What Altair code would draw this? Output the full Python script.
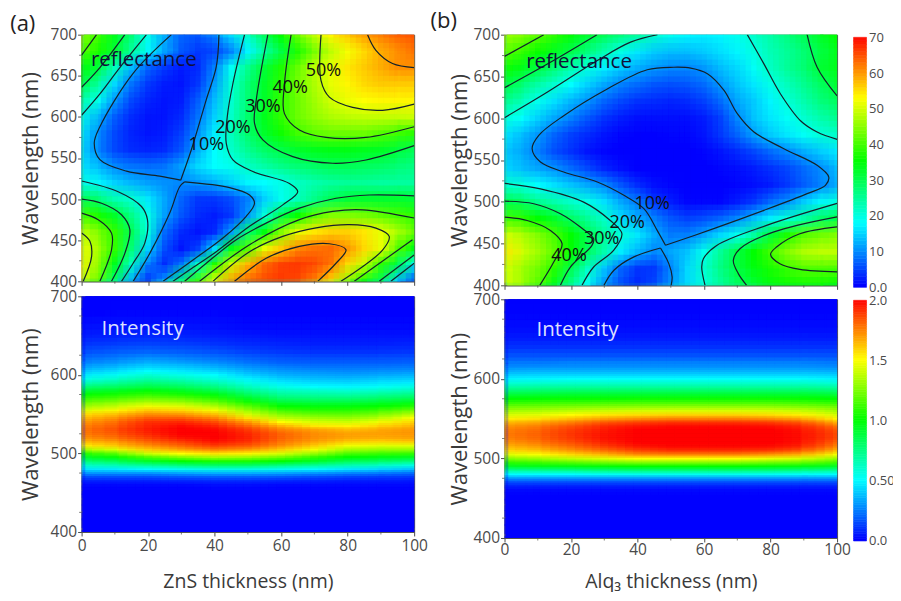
import altair as alt
import pandas as pd

FONT = "Open Sans"
RAMP = ["#0000ff", "#00ffff", "#00ff00", "#ffff00", "#ff0000"]

# ---------- reflectance maps: one list per wavelength, thickness 0,5,...,100 ----------
THICK5 = list(range(0, 101, 5))
WL20 = [700, 680, 660, 640, 620, 600, 580, 560, 540, 520, 500, 480, 460, 440, 420, 400]

REFL_A = [
 [45,39,33,27,19,12,7,6,9,15,21,28.5,35,42,48,53,56,59,61,63,64],
 [41,36,31,24,17,11,6,4,5,9,17,24,30,37,43,48,52,55,58,60,62],
 [35,30,22,13,7,4,2,3,9,18,25,31,37,42,48,51,54,56,58,60,60],
 [31,23,15,8,4,2,1.5,4,11,20,27,32,38,43,47,51,53,55,56,56,56],
 [24,18,10.5,5,2.5,1.5,2,6.5,13,20.5,27,32,38.5,42.5,46,49.5,51.5,52.5,53,53,53],
 [19,12,6.5,3,1.5,1.5,3,8,14.5,21,27.5,33,38.5,42.5,45,47,48,48.5,48.5,48.5,49],
 [16,9.5,5,2.5,1.5,2,4.5,10,16.5,22,27.5,32,36,39.5,41.5,42.5,42.5,42.5,41,39.5,38],
 [15,9,5,3,2.5,3,6,12,17.5,21,25,28,30,32,33,33.5,33.5,33,32.5,31,29],
 [16,12.5,9.5,8,7.5,8,11,15,17.5,18.5,21.5,23.5,25.5,27,28,29,29,28.5,28,27,26],
 [19.5,17,14.5,12.5,11,10,9.5,10.5,12,14.5,17,17.5,19,21.5,23,24,24.5,24.5,24,24,24],
 [30,26.5,22.5,20.5,16,11.5,7,4,4,5.5,9,14.5,18.5,22,25.5,29,31,31.5,31.5,31.5,31],
 [40.5,36.5,32,25.5,19,11,6,3,2,4,10.5,20,29.5,35.5,41,44,44,43,41.5,40,38],
 [49,43,38.5,29,19.5,7.5,3,1.5,3,11,27,34,44,51,54,55.5,55.5,54,51,47,42],
 [52,45.5,38.5,27,14.5,5.5,1.5,4.5,15,33,41,51,56,60.5,62,62.5,59.5,55,51,41.5,34],
 [53,44,33,21.5,9,3,8,21,37,49,57,62.5,65.5,66,65,62,55,49,38.5,31,19],
 [51,41,27,11.5,3,11,26,39,51,59,63,65,66,65,61,55,45.5,36,29,15,5],
]

REFL_B = [
 [46,44,41.5,38,34.5,31.5,29,26.5,24,21,18.5,17,16.5,17,18.5,21,23.5,26,29,32,35],
 [41.5,38.5,35.5,32.5,29.5,26,22.5,19,16,14,13,13,14,15.5,17,19.5,22.5,24.5,27,30,33],
 [36,33,30.5,27,23,19.5,16.5,14,12,10.5,9.5,9.5,10.5,13,15,18,21.5,24.5,27,31,33],
 [30.5,27,23.5,20.5,17.5,14.5,11.5,9,7.5,6,5.5,6,7.5,10.5,13.5,16,19,22,25,28,31.5],
 [25.5,22,18.5,15.5,12.5,10,7,5,3.5,3,2.5,3,4.5,7.5,11.5,14,17,20,23,26,28.5],
 [20,17.5,14.5,11.5,9,6,3.5,2,1,1,1,1,2,4.5,9.5,13.5,16,18,20.5,23,25],
 [16,13,10.5,7,4.5,3,1.5,0.5,0.2,0.2,0.5,0.5,1.5,4,7,11,14,16,18,20,21],
 [14,11.5,9,5.5,3.5,1.5,0.5,0,0,0,0,0,0.5,1.5,3,5,7.5,9.5,12,14,16],
 [15,13,11.5,10,7.5,5,2.5,1,0,0,0,0,0,0.5,1,2,3.5,5,7.5,9.5,13],
 [21,19.5,17.5,15.5,13.5,11.5,9.5,6,3,1,0.5,0,0,0,0.5,1,2,4,6.5,9,12],
 [30,28,25,23,21,19,15.5,11.5,8.5,4,2,0.5,0.5,0.5,2,4,7.5,10,14,17,19.5],
 [40,38,35,32,28,24.5,21,15.5,12,9,6,4.5,5.5,7,9.5,13,16.5,20,23.5,27,30],
 [50,47,44,40,35,29.5,24.5,20,16,12,8.5,9,11.5,15,18.5,24,31,37,41,42.5,44],
 [54,49.5,46,41.5,35,28.5,23,16.5,12.5,9.5,11.5,13.5,18.5,24.5,30,35,39.5,44,47,48,48],
 [50,46,43,38,30,22,14,7.5,4,4,9.5,15,21,26,30.5,34,37,39.5,41,41,40.5],
 [50,46,41,33,25,17.5,10,5,2.5,5,10,15,19.5,24,28,31,34,35.5,36,36,35],
]

# ---------- contour lines: [(thickness, wavelength), ...] ----------
CONTOURS_A = [
 [(4.5,700),(0,675)],
 [(13,700),(5.5,660),(0,636)],
 [(19.5,700),(11.5,660),(5.5,628),(0,602)],
 [(27,700),(15.5,653),(5.5,588),(3.8,568),(5.5,548),(13.5,534),(23.5,528),(29.8,523)],
 [(29.8,523),(33,560),(37.5,621),(40.5,661),(41.3,700)],
 [(15.5,400),(20.5,434),(26.5,483),(29.5,515),(31,521)],
 [(31,521),(44.5,514),(50.5,505),(52,495),(49.5,479),(42.5,452.6),(33.5,426),(24.5,400)],
 [(49,700),(45.5,640.6),(43.8,600),(43.5,567.8),(45.5,547.6),(51.5,533.5),(62.5,519),(65,509),(60.5,493),(50.5,467),(40.5,436),(32.5,414),(27.5,400)],
 [(56,700),(52.5,620),(52,592),(54.5,572),(63.5,551.6),(75.5,543.6),(85.5,547.6),(100,565)],
 [(63,700),(61,640),(61,604),(65.5,584),(73.5,575),(85.5,575),(100,588)],
 [(72,700),(72,644),(74.5,624),(81.5,611.5),(90.5,608),(100,615.5)],
 [(86,700),(88.5,681),(93.5,665),(100,660)],
 [(31,400),(37.5,422),(46.5,450.6),(55.5,470.8),(65.5,489),(76.5,501),(86.5,505),(100,504)],
 [(35.5,400),(50.5,444.5),(65.5,475),(75.5,485),(84.5,487),(100,477)],
 [(39.5,400),(50.5,436),(60.5,454.6),(70.5,465),(80.5,469),(88.5,464.7),(92.5,454.6),(90.5,438),(78,400)],
 [(46,400),(55.5,428),(65.5,442.5),(74.5,445.7),(79.5,438.4),(76.5,422),(71,400)],
 [(82,400),(99.5,450.6)],
 [(89.5,400),(100,432)],
 [(93,400),(100,422)],
 [(0,522),(11,509),(18,491),(19.8,475),(19,446.5),(15.5,422),(12,400)],
 [(0,500),(6,495),(12,481),(14.5,463),(13,434),(9,400)],
 [(0,483),(5,475),(9,458.6),(9,438.4),(5.5,400)],
 [(0,458.7),(2.5,448.6),(3,430),(0.5,400)],
]

CONTOURS_B = [
 [(0,674),(11.8,700)],
 [(0,636.5),(13.8,667),(27.8,700)],
 [(0,600.6),(12.8,631),(27.9,669),(37.9,691),(46,700)],
 [(48.4,447.9),(45.9,465.8),(41.9,491.7),(35.9,507.7),(27.9,523.6),(17.8,535.6),(10.8,547.6),(8.3,563.5),(10.3,579.5),(17.8,603),(30.9,635),(42.9,658),(50.9,661),(56,660),(61,653.3),(66,633.3),(70,605.4),(75,583.5),(84,563.5),(94,543.6),(97.5,529.6),(96.5,519.7),(91,509.7),(78,489.7),(62.9,467.8),(48.4,447.9)],
 [(29.9,400),(32.9,418),(38.9,434),(46.9,444.7)],
 [(46.9,444.7),(49.4,426),(50.4,410),(50.1,400)],
 [(73,700),(78,665),(83,629),(89,597),(94,583.5),(100,574.7)],
 [(91,700),(94,661),(100,626.6)],
 [(0,522),(10.8,515.5),(23.8,499.6),(31.8,477.6),(35.3,461.7),(32.8,441.8),(26.8,421.9),(23.3,400)],
 [(0,500.7),(8.8,497.6),(16.8,485.6),(22.8,469.7),(26.8,455.7),(26.3,447.8),(19.8,421.9),(16.8,400)],
 [(0,481.6),(6.8,477.6),(13.8,465.7),(17.3,449.8),(14.8,427.8),(10.6,400)],
 [(100,498),(78.8,471.7),(63.8,447.8),(59.8,431.8),(59.3,421.9),(60.3,400)],
 [(100,482),(80.8,463.7),(70.8,443.8),(68.8,429.8),(70.3,414),(72.8,400)],
 [(100,470),(88.8,461.7),(81.8,445.8),(80,437),(82.8,425.8),(88.8,419),(100,416)],
]

LABELS_A = [("10%",37.5,565.8),("20%",45.5,586),("30%",54.5,612),("40%",62.7,635),("50%",72.7,655.6)]
LABELS_B = [("10%",44.4,497),("20%",36.9,475),("30%",29.2,455.8),("40%",19.4,435)]

# ---------- intensity maps: one list per thickness 0,10,...,100, wavelengths in WL_I ----------
THICK10 = list(range(0, 101, 10))
WL_I = [400,420,440,450,460,465,470,475,480,485,490,495,500,505,510,515,520,525,530,535,540,545,550,555,560,
        565,570,575,580,585,590,595,600,605,610,615,620,630,640,650,660,680,700]

INT_A = [
 [0,0,0,0,.02,.07,.15,.3,.45,.6,.75,.9,1.05,1.3,1.52,1.62,1.7,1.74,1.75,1.73,1.68,1.62,1.55,1.42,1.3,1.2,1.1,1.0,.88,.76,.63,.53,.45,.38,.31,.26,.22,.15,.1,.06,.03,0,0],
 [0,0,0,0,.02,.07,.15,.3,.47,.65,.83,1.02,1.2,1.45,1.62,1.7,1.78,1.83,1.85,1.83,1.79,1.72,1.63,1.51,1.39,1.28,1.16,1.05,.93,.81,.7,.6,.52,.44,.37,.31,.26,.18,.12,.07,.04,.01,0],
 [0,0,0,0,.02,.07,.15,.3,.5,.7,.92,1.15,1.4,1.6,1.72,1.8,1.87,1.92,1.94,1.93,1.9,1.82,1.72,1.6,1.47,1.35,1.22,1.1,.98,.86,.76,.66,.58,.5,.42,.36,.3,.2,.13,.08,.04,.01,0],
 [0,0,0,0,.02,.08,.17,.33,.53,.76,1.0,1.25,1.5,1.68,1.8,1.88,1.96,2.0,2.0,1.98,1.92,1.82,1.7,1.57,1.44,1.31,1.18,1.05,.93,.82,.72,.62,.54,.46,.39,.33,.27,.18,.12,.07,.04,.01,0],
 [0,0,0,0,.03,.09,.18,.35,.56,.8,1.05,1.33,1.55,1.75,1.88,1.96,2.0,2.0,1.98,1.93,1.85,1.74,1.62,1.48,1.35,1.22,1.09,.97,.85,.75,.65,.56,.5,.42,.35,.29,.24,.16,.1,.06,.03,.01,0],
 [0,0,0,0,.03,.09,.18,.35,.56,.8,1.05,1.3,1.52,1.7,1.83,1.9,1.93,1.92,1.88,1.8,1.7,1.56,1.42,1.3,1.18,1.05,.93,.82,.72,.63,.55,.48,.41,.35,.29,.24,.2,.13,.08,.05,.02,0,0],
 [0,0,0,0,.02,.08,.17,.33,.53,.75,1.0,1.22,1.42,1.6,1.72,1.77,1.8,1.8,1.75,1.65,1.5,1.37,1.26,1.13,1.0,.89,.79,.7,.62,.54,.47,.41,.35,.3,.25,.2,.17,.11,.07,.04,.02,0,0],
 [0,0,0,0,.02,.07,.15,.3,.5,.7,.92,1.1,1.3,1.48,1.6,1.68,1.72,1.72,1.68,1.54,1.42,1.31,1.2,1.08,.97,.87,.77,.68,.6,.5,.44,.38,.33,.28,.23,.19,.16,.1,.06,.04,.02,0,0],
 [0,0,0,0,.02,.06,.13,.27,.46,.65,.83,1.0,1.15,1.33,1.48,1.6,1.67,1.68,1.63,1.52,1.4,1.29,1.19,1.08,.97,.87,.77,.67,.58,.49,.43,.37,.32,.27,.23,.19,.16,.1,.06,.04,.02,0,0],
 [0,0,0,0,.02,.06,.12,.25,.43,.62,.8,.96,1.12,1.3,1.45,1.58,1.66,1.68,1.66,1.58,1.47,1.35,1.24,1.12,1,.9,.8,.7,.6,.51,.45,.39,.33,.28,.23,.19,.16,.1,.06,.04,.02,0,0],
 [0,0,0,0,.02,.05,.11,.22,.38,.55,.75,.93,1.1,1.3,1.45,1.6,1.68,1.7,1.7,1.65,1.58,1.5,1.37,1.22,1.07,.95,.84,.74,.64,.55,.47,.41,.35,.29,.24,.2,.17,.11,.07,.04,.02,0,0],
]

INT_B = [
 [0,0,0,0,.02,.07,.15,.3,.5,.7,.92,1.08,1.25,1.43,1.56,1.63,1.69,1.73,1.75,1.74,1.7,1.63,1.52,1.42,1.32,1.22,1.1,1,.89,.78,.67,.57,.48,.41,.34,.28,.24,.16,.1,.06,.03,.01,0],
 [0,0,0,0,.02,.07,.15,.3,.5,.72,.95,1.12,1.32,1.5,1.62,1.7,1.76,1.8,1.81,1.8,1.76,1.68,1.56,1.45,1.34,1.23,1.12,1.01,.9,.79,.68,.58,.49,.42,.35,.29,.24,.16,.1,.06,.03,.01,0],
 [0,0,0,0,.02,.07,.15,.3,.5,.73,.96,1.17,1.38,1.57,1.7,1.78,1.84,1.88,1.89,1.88,1.84,1.75,1.62,1.5,1.37,1.25,1.13,1.02,.91,.8,.69,.59,.5,.42,.35,.29,.25,.16,.1,.06,.03,.01,0],
 [0,0,0,0,.02,.07,.15,.3,.52,.76,.98,1.22,1.44,1.64,1.78,1.87,1.93,1.96,1.96,1.95,1.92,1.83,1.68,1.54,1.4,1.27,1.14,1.02,.91,.8,.69,.59,.5,.42,.35,.29,.25,.16,.1,.06,.03,.01,0],
 [0,0,0,0,.02,.07,.15,.3,.53,.77,1.0,1.25,1.5,1.72,1.86,1.95,1.99,2.0,2.0,2.0,1.96,1.87,1.72,1.56,1.42,1.28,1.15,1.03,.91,.8,.69,.59,.5,.42,.35,.29,.25,.16,.1,.06,.03,.01,0],
 [0,0,0,0,.02,.07,.15,.3,.53,.77,1.0,1.25,1.5,1.74,1.9,1.98,2,2,2,2,1.98,1.9,1.75,1.58,1.43,1.29,1.15,1.03,.91,.8,.69,.59,.5,.42,.35,.29,.25,.16,.1,.06,.03,.01,0],
 [0,0,0,0,.02,.07,.15,.3,.53,.77,1.0,1.25,1.5,1.74,1.9,1.98,2,2,2,2,1.98,1.9,1.75,1.58,1.43,1.29,1.15,1.03,.91,.8,.69,.59,.5,.42,.35,.29,.25,.16,.1,.06,.03,.01,0],
 [0,0,0,0,.02,.07,.15,.3,.53,.77,1.0,1.25,1.5,1.74,1.9,1.98,2,2,2,2,1.98,1.9,1.75,1.58,1.43,1.29,1.15,1.03,.91,.8,.69,.59,.5,.42,.35,.29,.25,.16,.1,.06,.03,.01,0],
 [0,0,0,0,.02,.07,.15,.3,.52,.76,.98,1.22,1.46,1.7,1.88,1.97,2,2,2,2,1.97,1.88,1.72,1.56,1.42,1.28,1.15,1.03,.91,.8,.69,.59,.5,.42,.35,.29,.25,.16,.1,.06,.03,.01,0],
 [0,0,0,0,.02,.07,.15,.3,.51,.74,.96,1.2,1.42,1.65,1.82,1.92,1.96,1.97,1.97,1.96,1.92,1.83,1.67,1.52,1.39,1.26,1.13,1.02,.91,.8,.69,.59,.5,.42,.35,.29,.25,.16,.1,.06,.03,.01,0],
 [0,0,0,0,.02,.07,.15,.3,.5,.7,.92,1.12,1.3,1.48,1.64,1.74,1.8,1.85,1.86,1.84,1.78,1.66,1.52,1.42,1.32,1.22,1.1,1,.89,.78,.67,.57,.48,.41,.34,.28,.24,.16,.1,.06,.03,.01,0],
]

X_MAJOR = [0, 20, 40, 60, 80, 100]
X_MINOR = [10, 30, 50, 70, 90]
Y_MAJOR = [400, 450, 500, 550, 600, 650, 700]
Y_MINOR = [425, 475, 525, 575, 625, 675]
TXT = "#4a4a4a"
FRAME = "#555555"


def edges(vals):
    mids = [(a + b) / 2 for a, b in zip(vals, vals[1:])]
    lo = [vals[0] - (vals[1] - vals[0])] + mids
    hi = mids + [vals[-1] + (vals[-1] - vals[-2])]
    return list(zip(lo, hi))


def cells_by_row(table, xs, ys):
    ex = edges(xs)
    asc = sorted(ys)
    ey = dict(zip(asc, edges(asc)))
    return pd.DataFrame([
        dict(x1=ex[i][0], x2=ex[i][1], y1=ey[w][0], y2=ey[w][1], v=v)
        for w, row in zip(ys, table) for i, v in enumerate(row)
    ])


def cells_by_col(table, xs, ys):
    ex, ey = edges(xs), edges(ys)
    return pd.DataFrame([
        dict(x1=ex[i][0], x2=ex[i][1], y1=ey[j][0], y2=ey[j][1], v=v)
        for i, col in enumerate(table) for j, v in enumerate(col)
    ])


def x_axis(title=None, labels=True, padding=3, tpad=10):
    return alt.Axis(title=title, values=X_MAJOR, labels=labels, tickSize=4, labelFont=FONT, labelFontSize=15.5,
                    labelColor=TXT, tickColor=TXT, domainColor=FRAME, labelPadding=padding, labelFlush=False,
                    labelOverlap=False, grid=False, titleFont=FONT, titleFontSize=19.5, titleFontWeight="normal",
                    titleColor="#3a3a3a", titlePadding=tpad)


def y_axis(tpad):
    return alt.Axis(title="Wavelength (nm)", values=Y_MAJOR, tickSize=4, labelFont=FONT, labelFontSize=15.5,
                    labelColor=TXT, tickColor=TXT, domainColor=FRAME, labelPadding=1, labelOverlap=False,
                    labelFlush=False, grid=False, titleFont=FONT, titleFontSize=22, titleFontWeight="normal",
                    titleColor="#3a3a3a", titlePadding=tpad)


def panel(df, vmax, w, h, xax, yax, extras, nx, ny, under):
    stops = [vmax * i / 4 for i in range(5)]
    cscale = alt.Scale(domain=stops, range=RAMP, interpolate="rgb")
    xsc = alt.Scale(domain=[0, 100], nice=False)
    ysc = alt.Scale(domain=[400, 700], nice=False)
    layers = []
    k = 0
    for ix in range(nx):
        for iy in range(ny):
            k += 1
            fx = (ix + 0.5) / nx - 0.5
            fy = (iy + 0.5) / ny - 0.5
            d = df.copy()
            wx, wy = d.x2 - d.x1, d.y2 - d.y1
            d = d.assign(x1=d.x1 + fx * wx, x2=d.x2 + fx * wx, y1=d.y1 + fy * wy, y2=d.y2 + fy * wy)
            enc = dict(
                x=alt.X("x1:Q", scale=xsc, axis=xax),
                x2="x2:Q",
                y=alt.Y("y1:Q", scale=ysc, axis=yax),
                y2="y2:Q",
                color=alt.Color("v:Q", scale=cscale, legend=None),
            )
            if k == 1:
                enc["stroke"] = alt.Stroke("v:Q", scale=cscale, legend=None)
                layers.append(alt.Chart(d).mark_rect(strokeWidth=0.6, clip=True).encode(**enc))
            else:
                layers.append(alt.Chart(d).mark_rect(opacity=1 / k, clip=True).encode(**enc))
    minor_y = alt.Chart(pd.DataFrame({"y": Y_MINOR})).mark_tick(
        size=2.5, thickness=1, color=TXT, xOffset=-1.25).encode(y="y:Q", x=alt.value(0))
    minor_x = alt.Chart(pd.DataFrame({"x": X_MINOR})).mark_tick(
        size=2.5, thickness=1, color=TXT, yOffset=1.25).encode(x="x:Q", y=alt.value(h))
    return alt.layer(*layers, minor_x, minor_y, *extras).properties(
        width=w, height=h, view=alt.ViewBackground(stroke=FRAME, fill=under))


def contour_layer(lines):
    df = pd.DataFrame([dict(id=i, o=j, x=p[0], y=p[1]) for i, l in enumerate(lines) for j, p in enumerate(l)])
    return alt.Chart(df).mark_line(color="#14222a", strokeWidth=1.2, interpolate="catmull-rom", clip=True).encode(
        x="x:Q", y="y:Q", detail="id:N", order="o:Q")


def text_layer(rows, size, color, align="center"):
    df = pd.DataFrame(rows, columns=["t", "x", "y"])
    return alt.Chart(df).mark_text(font=FONT, fontSize=size, color=color, align=align, baseline="middle").encode(
        x="x:Q", y="y:Q", text="t:N")


def colorbar(stops, vmax, dom, h, values, expr):
    step = stops[1] - stops[0]
    df = pd.DataFrame([dict(v=s, y1=s, y2=min(s + step, vmax)) for s in stops])
    cscale = alt.Scale(domain=[vmax * i / 4 for i in range(5)], range=RAMP, interpolate="rgb")
    ax = alt.Axis(orient="right", title=None, values=values, labelExpr=expr, tickSize=0, domain=False, grid=False,
                  labelFont=FONT, labelFontSize=13, labelColor=TXT, labelPadding=2, labelOverlap=False, labelFlush=False)
    return alt.Chart(df).mark_rect(strokeWidth=0.6).encode(
        x=alt.value(0), x2=alt.value(13),
        y=alt.Y("y1:Q", scale=alt.Scale(domain=[0, dom], nice=False), axis=ax),
        y2="y2:Q",
        color=alt.Color("v:Q", scale=cscale, legend=None),
        stroke=alt.Stroke("v:Q", scale=cscale, legend=None),
    ).properties(width=13, height=h, view=alt.ViewBackground(stroke=None))


TEAL = "#30d8a0"
a_top = panel(cells_by_row(REFL_A, THICK5, WL20), 70, 333, 247, x_axis(labels=False), y_axis(8), [
    contour_layer(CONTOURS_A),
    text_layer(LABELS_A, 18, "#111111"),
    text_layer([("reflectance", 2.8, 669)], 20.5, "#10103a", "left"),
    text_layer([("(a)", -17.7, 713.4)], 22, "#222222"),
], 3, 3, TEAL)
a_bot = panel(cells_by_col(INT_A, THICK10, WL_I), 2, 333, 236, x_axis("ZnS thickness (nm)", True, 3, 18), y_axis(8), [
    text_layer([("Intensity", 6, 659)], 20.5, "#dde0ff", "left"),
], 4, 2, "#0000ff")
b_top = panel(cells_by_row(REFL_B, THICK5, WL20), 70, 333, 251, x_axis(labels=False), y_axis(1), [
    contour_layer(CONTOURS_B),
    text_layer(LABELS_B, 18, "#111111"),
    text_layer([("reflectance", 6.5, 667.7)], 20.5, "#10103a", "left"),
    text_layer([("(b)", -18.3, 715.9)], 22, "#222222"),
], 3, 3, TEAL)
b_bot = panel(cells_by_col(INT_B, THICK10, WL_I), 2, 333, 239, x_axis("Alq\u2083 thickness (nm)", True, 1, 14), y_axis(1), [
    text_layer([("Intensity", 9.6, 662)], 20.5, "#dde0ff", "left"),
], 4, 2, "#0000ff")

BAR_R = list(range(0, 70))
BAR_I = [i / 50 for i in range(0, 100)]
cb_top = colorbar(BAR_R, 70, 70.75, 253, [0, 10, 20, 30, 40, 50, 60, 70], "datum.value == 0 ? '0.0' : datum.label")
cb_bot = colorbar(BAR_I, 2, 2, 241, [0, 0.5, 1, 1.5, 2],
                  "datum.value == 0.5 ? '0.50' : format(datum.value, '.1f')")

RES = dict(color="independent", stroke="independent")
col_a = alt.vconcat(a_top, a_bot, spacing=15, bounds="flush").resolve_scale(**RES)
col_b = alt.vconcat(b_top, b_bot, spacing=14, bounds="flush").resolve_scale(**RES)
col_c = alt.vconcat(cb_top, cb_bot, spacing=13, bounds="flush").resolve_scale(**RES)

chart = alt.hconcat(col_a, col_b, col_c, spacing=1.5).resolve_scale(**RES).properties(
    padding={"left": 0.7, "top": 1.3, "right": -1.5, "bottom": 0},
    background="white",
)
chart.save("out.html", embed_options={"renderer": "svg", "actions": False})
